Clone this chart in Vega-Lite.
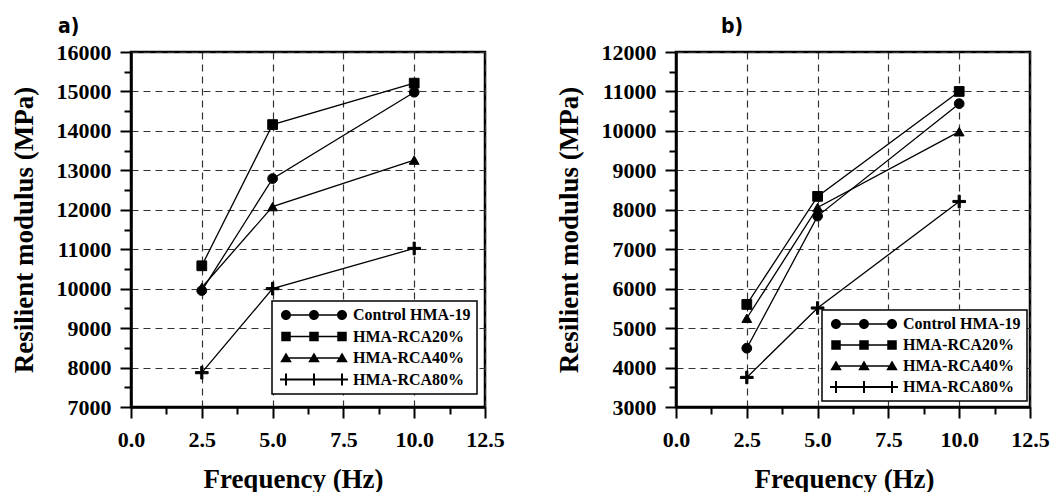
{
  "$schema": "https://vega.github.io/schema/vega-lite/v6.json",
  "padding": {"left": 8, "top": 14, "right": 0, "bottom": 0},
  "background": "white",
  "spacing": 47,
  "datasets": {
    "panelA": [
      {"series": "Control HMA-19", "freq": 2.5, "modulus": 9950},
      {"series": "Control HMA-19", "freq": 5, "modulus": 12790},
      {"series": "Control HMA-19", "freq": 10, "modulus": 14980},
      {"series": "HMA-RCA20%", "freq": 2.5, "modulus": 10580},
      {"series": "HMA-RCA20%", "freq": 5, "modulus": 14160},
      {"series": "HMA-RCA20%", "freq": 10, "modulus": 15210},
      {"series": "HMA-RCA40%", "freq": 2.5, "modulus": 10030},
      {"series": "HMA-RCA40%", "freq": 5, "modulus": 12080},
      {"series": "HMA-RCA40%", "freq": 10, "modulus": 13260},
      {"series": "HMA-RCA80%", "freq": 2.5, "modulus": 7870},
      {"series": "HMA-RCA80%", "freq": 5, "modulus": 10000},
      {"series": "HMA-RCA80%", "freq": 10, "modulus": 11020}
    ],
    "panelB": [
      {"series": "Control HMA-19", "freq": 2.5, "modulus": 4490},
      {"series": "Control HMA-19", "freq": 5, "modulus": 7840},
      {"series": "Control HMA-19", "freq": 10, "modulus": 10690},
      {"series": "HMA-RCA20%", "freq": 2.5, "modulus": 5600},
      {"series": "HMA-RCA20%", "freq": 5, "modulus": 8340},
      {"series": "HMA-RCA20%", "freq": 10, "modulus": 11000},
      {"series": "HMA-RCA40%", "freq": 2.5, "modulus": 5250},
      {"series": "HMA-RCA40%", "freq": 5, "modulus": 8060},
      {"series": "HMA-RCA40%", "freq": 10, "modulus": 9980},
      {"series": "HMA-RCA80%", "freq": 2.5, "modulus": 3750},
      {"series": "HMA-RCA80%", "freq": 5, "modulus": 5510},
      {"series": "HMA-RCA80%", "freq": 10, "modulus": 8210}
    ]
  },
  "resolve": {"scale": {"shape": "independent", "x": "independent", "y": "independent"}, "legend": {"shape": "independent"}},
  "hconcat": [
    {
      "width": 354,
      "height": 355,
      "data": {"name": "panelA"},
      "title": {"text": "a)", "anchor": "start", "frame": "group", "dx": -73, "offset": 4},
      "encoding": {
        "x": {
          "field": "freq", "type": "quantitative",
          "scale": {"domain": [0, 12.5], "nice": false, "zero": false},
          "axis": {
            "title": "Frequency (Hz)", "titleX": 162, "titleFontSize": 27,
            "values": [0, 1.25, 2.5, 3.75, 5, 6.25, 7.5, 8.75, 10, 11.25, 12.5],
            "labelExpr": "datum.value % 2.5 === 0 ? format(datum.value, '.1f') : ''",
            "tickSize": {"condition": {"test": "datum.value % 2.5 === 0", "value": 11}, "value": 7},
            "gridOpacity": {"condition": {"test": "datum.value % 2.5 === 0", "value": 1}, "value": 0}
          }
        },
        "y": {
          "field": "modulus", "type": "quantitative",
          "scale": {"domain": [7000, 16000], "nice": false, "zero": false},
          "axis": {
            "title": "Resilient modulus (MPa)",
            "values": [7000, 7500, 8000, 8500, 9000, 9500, 10000, 10500, 11000, 11500, 12000, 12500, 13000, 13500, 14000, 14500, 15000, 15500, 16000],
            "format": "d",
            "labelExpr": "datum.value % 1000 === 0 ? datum.label : ''",
            "tickSize": {"condition": {"test": "datum.value % 1000 === 0", "value": 11}, "value": 7},
            "gridOpacity": {"condition": {"test": "datum.value % 1000 === 0", "value": 1}, "value": 0}
          }
        }
      },
      "resolve": {"scale": {"shape": "independent"}, "legend": {"shape": "independent"}},
      "layer": [
        {
          "mark": {"type": "line", "color": "black", "strokeWidth": 1.3},
          "encoding": {"detail": {"field": "series"}}
        },
        {
          "mark": {"type": "point", "filled": true, "fill": "black", "stroke": "black", "strokeWidth": 1, "size": 95, "opacity": 1},
          "encoding": {
            "shape": {
              "field": "series", "type": "nominal",
              "scale": {"domain": ["Control HMA-19", "HMA-RCA20%", "HMA-RCA40%", "HMA-RCA80%"], "range": ["circle", "square", "triangle-up", "M-1.3,-0.22H1.3V0.22H-1.3ZM-0.22,-1.3H0.22V1.3H-0.22Z"]},
              "legend": null
            }
          }
        },
        {
          "mark": {"type": "point", "filled": true, "fill": "black", "stroke": "black", "opacity": 0},
          "encoding": {
            "shape": {
              "field": "series", "type": "nominal",
              "scale": {"domain": ["Control HMA-19", "HMA-RCA20%", "HMA-RCA40%", "HMA-RCA80%"], "range": [
                "M-1,0A1,1,0,1,1,1,0A1,1,0,1,1,-1,0ZM4.6,0A1,1,0,1,1,6.6,0A1,1,0,1,1,4.6,0ZM10.2,0A1,1,0,1,1,12.2,0A1,1,0,1,1,10.2,0ZM1,-0.14H4.6V0.14H1ZM6.6,-0.14H10.2V0.14H6.6Z",
                "M-0.95,-0.95H0.95V0.95H-0.95ZM4.65,-0.95H6.55V0.95H4.65ZM10.25,-0.95H12.15V0.95H10.25ZM0.95,-0.14H4.65V0.14H0.95ZM6.55,-0.14H10.25V0.14H6.55Z",
                "M0,-1.1L1.15,0.85H-1.15ZM5.6,-1.1L6.75,0.85H4.45ZM11.2,-1.1L12.35,0.85H10.05ZM0.6,-0.14H5V0.14H0.6ZM6.2,-0.14H10.6V0.14H6.2Z",
                "M-1.2,-0.2H12.4V0.2H-1.2ZM-0.2,-1.2H0.2V1.2H-0.2ZM5.4,-1.2H5.8V1.2H5.4ZM11,-1.2H11.4V1.2H11Z"
              ]},
              "legend": {
                "title": null, "orient": "none", "legendX": 141, "legendY": 249,
                "symbolSize": 100, "labelOffset": 59, "rowPadding": 5.5, "padding": 6,
                "symbolOpacity": 1, "symbolFillColor": "black", "symbolStrokeColor": "black", "symbolStrokeWidth": 0,
                "fillColor": "white", "strokeColor": "black"
              }
            }
          }
        }
      ]
    },
    {
      "width": 354,
      "height": 355,
      "data": {"name": "panelB"},
      "title": {"text": "b)", "anchor": "start", "frame": "group", "dx": 45, "offset": 4},
      "encoding": {
        "x": {
          "field": "freq", "type": "quantitative",
          "scale": {"domain": [0, 12.5], "nice": false, "zero": false},
          "axis": {
            "title": "Frequency (Hz)", "titleX": 168, "titleFontSize": 27,
            "values": [0, 1.25, 2.5, 3.75, 5, 6.25, 7.5, 8.75, 10, 11.25, 12.5],
            "labelExpr": "datum.value % 2.5 === 0 ? format(datum.value, '.1f') : ''",
            "tickSize": {"condition": {"test": "datum.value % 2.5 === 0", "value": 11}, "value": 7},
            "gridOpacity": {"condition": {"test": "datum.value % 2.5 === 0", "value": 1}, "value": 0}
          }
        },
        "y": {
          "field": "modulus", "type": "quantitative",
          "scale": {"domain": [3000, 12000], "nice": false, "zero": false},
          "axis": {
            "title": "Resilient modulus (MPa)",
            "values": [3000, 3500, 4000, 4500, 5000, 5500, 6000, 6500, 7000, 7500, 8000, 8500, 9000, 9500, 10000, 10500, 11000, 11500, 12000],
            "format": "d",
            "labelExpr": "datum.value % 1000 === 0 ? datum.label : ''",
            "tickSize": {"condition": {"test": "datum.value % 1000 === 0", "value": 11}, "value": 7},
            "gridOpacity": {"condition": {"test": "datum.value % 1000 === 0", "value": 1}, "value": 0}
          }
        }
      },
      "resolve": {"scale": {"shape": "independent"}, "legend": {"shape": "independent"}},
      "layer": [
        {
          "mark": {"type": "line", "color": "black", "strokeWidth": 1.3},
          "encoding": {"detail": {"field": "series"}}
        },
        {
          "mark": {"type": "point", "filled": true, "fill": "black", "stroke": "black", "strokeWidth": 1, "size": 95, "opacity": 1},
          "encoding": {
            "shape": {
              "field": "series", "type": "nominal",
              "scale": {"domain": ["Control HMA-19", "HMA-RCA20%", "HMA-RCA40%", "HMA-RCA80%"], "range": ["circle", "square", "triangle-up", "M-1.3,-0.22H1.3V0.22H-1.3ZM-0.22,-1.3H0.22V1.3H-0.22Z"]},
              "legend": null
            }
          }
        },
        {
          "mark": {"type": "point", "filled": true, "fill": "black", "stroke": "black", "opacity": 0},
          "encoding": {
            "shape": {
              "field": "series", "type": "nominal",
              "scale": {"domain": ["Control HMA-19", "HMA-RCA20%", "HMA-RCA40%", "HMA-RCA80%"], "range": [
                "M-1,0A1,1,0,1,1,1,0A1,1,0,1,1,-1,0ZM4.6,0A1,1,0,1,1,6.6,0A1,1,0,1,1,4.6,0ZM10.2,0A1,1,0,1,1,12.2,0A1,1,0,1,1,10.2,0ZM1,-0.14H4.6V0.14H1ZM6.6,-0.14H10.2V0.14H6.6Z",
                "M-0.95,-0.95H0.95V0.95H-0.95ZM4.65,-0.95H6.55V0.95H4.65ZM10.25,-0.95H12.15V0.95H10.25ZM0.95,-0.14H4.65V0.14H0.95ZM6.55,-0.14H10.25V0.14H6.55Z",
                "M0,-1.1L1.15,0.85H-1.15ZM5.6,-1.1L6.75,0.85H4.45ZM11.2,-1.1L12.35,0.85H10.05ZM0.6,-0.14H5V0.14H0.6ZM6.2,-0.14H10.6V0.14H6.2Z",
                "M-1.2,-0.2H12.4V0.2H-1.2ZM-0.2,-1.2H0.2V1.2H-0.2ZM5.4,-1.2H5.8V1.2H5.4ZM11,-1.2H11.4V1.2H11Z"
              ]},
              "legend": {
                "title": null, "orient": "none", "legendX": 146, "legendY": 258,
                "symbolSize": 100, "labelOffset": 59, "rowPadding": 5, "padding": 6,
                "symbolOpacity": 1, "symbolFillColor": "black", "symbolStrokeColor": "black", "symbolStrokeWidth": 0,
                "fillColor": "white", "strokeColor": "black"
              }
            }
          }
        }
      ]
    }
  ],
  "config": {
    "view": {"stroke": "black", "strokeWidth": 2.5},
    "title": {"font": "'DejaVu Sans Condensed', 'Liberation Sans Narrow', Roboto, sans-serif", "fontWeight": "bold", "fontSize": 21, "color": "black"},
    "axis": {
      "domainColor": "black", "domainWidth": 2.5,
      "tickColor": "black", "tickWidth": 2,
      "labelFont": "Liberation Serif", "labelFontWeight": "bold", "labelFontSize": 22, "labelColor": "black",
      "labelOverlap": false, "labelFlush": false,
      "titleFont": "Liberation Serif", "titleFontWeight": "bold", "titleFontSize": 27, "titleColor": "black",
      "grid": true, "gridColor": "#333333", "gridDash": [7, 5], "gridWidth": 1.2
    },
    "axisX": {"titlePadding": 16, "labelPadding": 11},
    "axisY": {"titlePadding": 18, "labelPadding": 9},
    "legend": {
      "labelFont": "Liberation Serif", "labelFontWeight": "bold", "labelFontSize": 16, "labelColor": "black",
      "strokeWidth": 1.5
    }
  }
}
